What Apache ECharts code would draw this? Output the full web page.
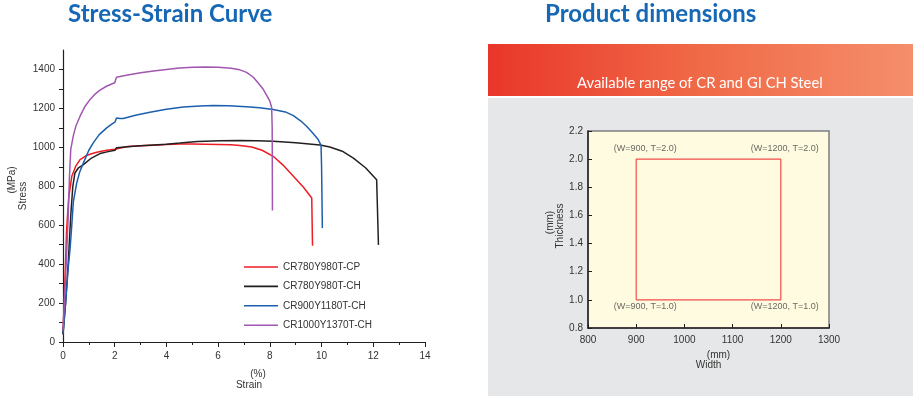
<!DOCTYPE html>
<html>
<head>
<meta charset="utf-8">
<script src="https://cdn.jsdelivr.net/npm/echarts@6/dist/echarts.min.js"></script>
<style>
html,body{margin:0;padding:0;background:#fff;}
#chart{width:920px;height:396px;}
</style>
</head>
<body>
<div id="chart"></div>
<script>
// ---------- Stress-Strain data ----------
const seriesNames = ['CR780Y980T-CP', 'CR780Y980T-CH', 'CR900Y1180T-CH', 'CR1000Y1370T-CH'];

const strainCP = [0, 0.07, 0.14, 0.22, 0.34, 0.5, 0.66, 0.9, 1.2, 1.43, 1.7, 2.0, 2.03, 2.07, 2.5, 3.0, 3.5, 4.0, 4.52, 5.0, 5.5, 6.0, 6.5, 6.84, 7.3, 7.7, 8.13, 8.5, 8.91, 9.3, 9.62, 9.65];
const stressCP = [40, 300, 576, 740, 851, 905, 937, 958, 971, 979, 985, 990, 996, 1000, 1004, 1008, 1011, 1014, 1017, 1017, 1016, 1015, 1013, 1010, 1002, 985, 954, 910, 851, 795, 740, 494];

const strainCH780 = [0, 0.1, 0.2, 0.3, 0.38, 0.46, 0.6, 0.79, 1.1, 1.43, 1.75, 2.01, 2.04, 2.07, 2.5, 3.0, 3.5, 4.0, 4.52, 5.2, 6.07, 6.84, 7.5, 8.13, 9.0, 9.94, 10.32, 10.8, 11.23, 11.7, 12.13, 12.18, 12.2];
const stressCH780 = [40, 200, 400, 650, 800, 868, 895, 911, 945, 968, 978, 985, 993, 998, 1003, 1008, 1012, 1016, 1022, 1030, 1034, 1035, 1034, 1031, 1023, 1012, 1002, 980, 945, 895, 834, 826, 499];

const strainCH900 = [0, 0.1, 0.2, 0.27, 0.34, 0.4, 0.53, 0.65, 0.79, 1.0, 1.17, 1.4, 1.69, 1.9, 2.01, 2.04, 2.07, 2.2, 2.33, 2.8, 3.36, 4.0, 4.65, 5.3, 5.81, 6.4, 7.1, 7.6, 8.13, 8.6, 8.91, 9.2, 9.42, 9.65, 9.87, 9.98, 10.0, 10.03];
const stressCH900 = [40, 200, 380, 473, 600, 720, 817, 875, 920, 985, 1023, 1065, 1100, 1120, 1129, 1140, 1151, 1148, 1148, 1165, 1180, 1196, 1207, 1212, 1215, 1213, 1208, 1203, 1194, 1182, 1163, 1135, 1108, 1075, 1040, 1010, 900, 585];

const strainCH1000 = [0, 0.1, 0.2, 0.25, 0.3, 0.4, 0.5, 0.66, 0.85, 1.04, 1.25, 1.43, 1.7, 2.0, 2.03, 2.07, 2.5, 3.0, 3.5, 4.0, 4.5, 5.04, 5.5, 6.0, 6.5, 6.84, 7.1, 7.36, 7.55, 7.75, 7.9, 8.0, 8.07, 8.09, 8.1];
const stressCH1000 = [60, 330, 640, 850, 990, 1060, 1110, 1160, 1210, 1245, 1275, 1294, 1315, 1332, 1345, 1360, 1372, 1383, 1392, 1400, 1408, 1412, 1413, 1412, 1406, 1398, 1385, 1360, 1330, 1297, 1262, 1237, 1205, 1100, 676];

const strainTicks = [0, 2, 4, 6, 8, 10, 12, 14];
const stressTicks = [0, 200, 400, 600, 800, 1000, 1200, 1400];

// ---------- Product dimensions data ----------
const rangeWidth = [900, 1200];      // mm
const rangeThickness = [1.0, 2.0];   // mm
const widthTicks = [800, 900, 1000, 1100, 1200, 1300];
const thicknessTicks = [0.8, 1.0, 1.2, 1.4, 1.6, 1.8, 2.0, 2.2];
const cornerLabels = ['(W=900, T=2.0)', '(W=1200, T=2.0)', '(W=900, T=1.0)', '(W=1200, T=1.0)'];

// ---------- build ----------
const zip = (xs, ys) => xs.map((x, i) => [x, ys[i]]);
const curveData = [zip(strainCP, stressCP), zip(strainCH780, stressCH780), zip(strainCH900, stressCH900), zip(strainCH1000, stressCH1000)];
const curveColors = ['#ee1c25', '#231f20', '#1c5fad', '#a157b0'];

const rectData = [
  [rangeWidth[0], rangeThickness[0]],
  [rangeWidth[0], rangeThickness[1]],
  [rangeWidth[1], rangeThickness[1]],
  [rangeWidth[1], rangeThickness[0]],
  [rangeWidth[0], rangeThickness[0]]
];
const cornerPts = [
  [rangeWidth[0], rangeThickness[1]],
  [rangeWidth[1], rangeThickness[1]],
  [rangeWidth[0], rangeThickness[0]],
  [rangeWidth[1], rangeThickness[0]]
];
const cornerOffsets = [[9, -11], [4, -11], [9, 7], [4, 7]];

const FONT = 'Liberation Sans, Arial, Helvetica, sans-serif';
const TITLE_FONT = 'Lato, "Open Sans", sans-serif';

const chart = echarts.init(document.getElementById('chart'), null, {renderer: 'canvas'});

const option = {
  animation: false,
  backgroundColor: '#ffffff',
  graphic: {
    elements: [
      {type: 'rect', z: -100, shape: {x: 488, y: 98, width: 425, height: 298}, style: {fill: '#e6e7e8'}},
      {type: 'rect', z: -100, shape: {x: 488, y: 44, width: 425, height: 52},
        style: {fill: new echarts.graphic.LinearGradient(0, 0, 1, 0, [
          {offset: 0, color: '#e9362a'}, {offset: 0.5, color: '#f06a47'}, {offset: 1, color: '#f58e6c'}
        ])}}
    ]
  },
  title: [
    {text: 'Stress-Strain Curve', left: 68, top: 2, padding: 0,
      textStyle: {fontFamily: TITLE_FONT, fontWeight: 'bold', fontSize: 24, color: '#1768b4'}},
    {text: 'Product dimensions', left: 545, top: 2, padding: 0,
      textStyle: {fontFamily: TITLE_FONT, fontWeight: 'bold', fontSize: 24, color: '#1768b4'}},
    {text: 'Available range of CR and GI CH Steel', left: 577, top: 76, padding: 0,
      textStyle: {fontFamily: TITLE_FONT, fontWeight: 'normal', fontSize: 14.8, color: '#ffffff'}}
  ],
  legend: {
    orient: 'vertical', left: 244, top: 262, padding: 0,
    icon: 'rect', itemWidth: 34, itemHeight: 1.6, itemGap: 9.4,
    data: seriesNames,
    textStyle: {fontFamily: FONT, fontSize: 10, color: '#333'}
  },
  grid: [
    {left: 63, top: 50, width: 362, height: 292, containLabel: false},
    {left: 588, top: 131, width: 241, height: 197, show: true, backgroundColor: '#fffbe0',
      borderColor: '#7f7f7f', borderWidth: 1.5}
  ],
  xAxis: [
    {gridIndex: 0, type: 'value', min: 0, max: 14, interval: 2,
      name: '{u|(%)}\n{n|Strain}', nameLocation: 'middle', nameGap: 27,
      nameTextStyle: {fontFamily: FONT, fontSize: 10, color: '#333', lineHeight: 11,
        rich: {u: {padding: [0, 0, 0, 28], fontSize: 10, color: '#333', lineHeight: 11, fontFamily: FONT},
               n: {padding: [0, 0, 0, 10], fontSize: 10, color: '#333', lineHeight: 11, fontFamily: FONT}}},
      axisLine: {lineStyle: {color: '#231f20', width: 1.2}},
      axisTick: {length: 5, lineStyle: {color: '#231f20', width: 1}},
      minorTick: {show: true, splitNumber: 2, length: 3, lineStyle: {color: '#231f20', width: 1}},
      axisLabel: {margin: 9, fontFamily: FONT, fontSize: 10, color: '#333',
        formatter: v => strainTicks.indexOf(v) >= 0 ? String(v) : ''},
      splitLine: {show: false}},
    {gridIndex: 1, type: 'value', min: 800, max: 1300, interval: 100,
      name: '{u|(mm)}\n{n|Width}', nameLocation: 'middle', nameGap: 22,
      nameTextStyle: {fontFamily: FONT, fontSize: 10, color: '#333', lineHeight: 10,
        rich: {u: {padding: [0, 0, 0, 20], fontSize: 10, color: '#333', lineHeight: 10, fontFamily: FONT},
               n: {fontSize: 10, color: '#333', lineHeight: 10, fontFamily: FONT}}},
      axisLine: {lineStyle: {color: '#231f20', width: 1.5}},
      axisTick: {inside: true, length: 4, lineStyle: {color: '#231f20'}},
      axisLabel: {margin: 7, fontFamily: FONT, fontSize: 10, color: '#333',
        formatter: v => widthTicks.indexOf(v) >= 0 ? String(v) : ''},
      splitLine: {show: false}}
  ],
  yAxis: [
    {gridIndex: 0, type: 'value', min: 0, max: 1500, interval: 100,
      name: '{u|(MPa)}\n{n|Stress}', nameLocation: 'middle', nameGap: 34,
      nameTextStyle: {fontFamily: FONT, fontSize: 10, color: '#333', lineHeight: 11,
        rich: {u: {padding: [0, 0, 0, 32], fontSize: 10, color: '#333', lineHeight: 11, fontFamily: FONT},
               n: {fontSize: 10, color: '#333', lineHeight: 11, fontFamily: FONT}}},
      axisLine: {show: true, lineStyle: {color: '#231f20', width: 1.2}},
      axisTick: {show: true, length: 4, lineStyle: {color: '#231f20'}},
      axisLabel: {margin: 8, fontFamily: FONT, fontSize: 10, color: '#333', showMaxLabel: false,
        formatter: v => stressTicks.indexOf(v) >= 0 ? String(v) : ''},
      splitLine: {show: false}},
    {gridIndex: 1, type: 'value', min: 0.8, max: 2.2, interval: 0.2,
      name: '{u|(mm)}\n{n|Thickness}', nameLocation: 'middle', nameGap: 17,
      nameTextStyle: {fontFamily: FONT, fontSize: 10, color: '#333', lineHeight: 10,
        rich: {u: {padding: [0, 0, 0, 14], fontSize: 10, color: '#333', lineHeight: 10, fontFamily: FONT},
               n: {padding: [0, 0, 0, 7], fontSize: 10, color: '#333', lineHeight: 10, fontFamily: FONT}}},
      axisLine: {show: true, lineStyle: {color: '#231f20', width: 1.5}},
      axisTick: {show: true, inside: true, length: 4, lineStyle: {color: '#231f20'}},
      axisLabel: {margin: 5, fontFamily: FONT, fontSize: 10, color: '#333',
        formatter: v => thicknessTicks.some(t => Math.abs(t - v) < 1e-6) ? v.toFixed(1) : ''},
      splitLine: {show: false}}
  ],
  series: [
    ...seriesNames.map((name, i) => ({
      name, type: 'line', xAxisIndex: 0, yAxisIndex: 0,
      data: curveData[i], symbol: 'none', smooth: false,
      lineStyle: {color: curveColors[i], width: 1.5},
      itemStyle: {color: curveColors[i]}
    })),
    {type: 'line', xAxisIndex: 1, yAxisIndex: 1, data: rectData, symbol: 'none',
      lineStyle: {color: '#ef4f4b', width: 1.2}, silent: true},
    {type: 'scatter', xAxisIndex: 1, yAxisIndex: 1, symbolSize: 0, silent: true,
      data: cornerPts.map((p, i) => ({value: p, name: cornerLabels[i],
        label: {offset: cornerOffsets[i]}})),
      label: {show: true, position: 'inside', formatter: p => p.name,
        fontFamily: FONT, fontSize: 9, color: '#444', align: 'center', verticalAlign: 'middle'}}
  ]
};
chart.setOption(option);
</script>
</body>
</html>
